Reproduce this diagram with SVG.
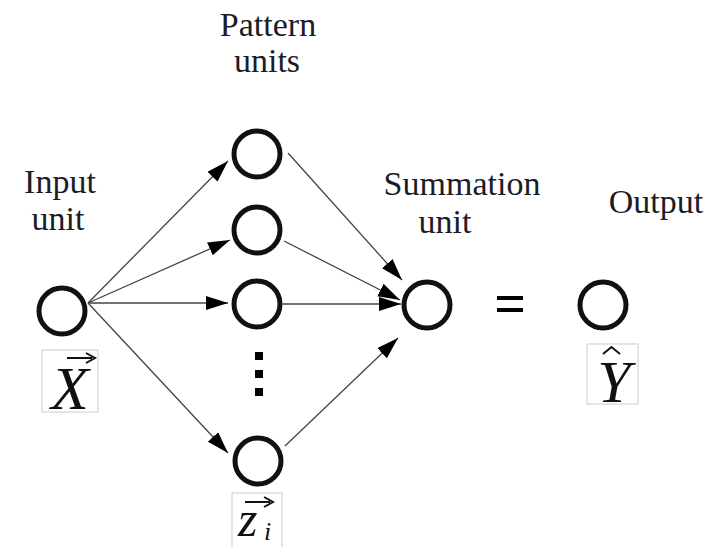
<svg xmlns="http://www.w3.org/2000/svg" width="708" height="547" viewBox="0 0 708 547">
<style>
.lbl{font-size:34px;fill:#1c1c28;text-anchor:middle}
.math{font-style:italic;fill:#111}
.node{fill:#fff;stroke:#111;stroke-width:5}
.conn{stroke:#444;stroke-width:1.3;fill:none}
.box{fill:none;stroke:#ccc;stroke-width:1}
.acc{stroke:#111;stroke-width:2;fill:none}
</style>
<defs>
<marker id="ah" markerUnits="userSpaceOnUse" markerWidth="24" markerHeight="16" refX="22" refY="7" orient="auto">
<path d="M0,0 L22,7 L0,14 z" fill="#000"/>
</marker>
</defs>
<rect width="708" height="547" fill="#fff"/>
<g id="labels" font-family="Liberation Serif, Times New Roman, serif">
<text class="lbl" x="268" y="36">Pattern</text>
<text class="lbl" x="267" y="72">units</text>
<text class="lbl" x="60" y="193">Input</text>
<text class="lbl" x="58" y="230">unit</text>
<text class="lbl" x="462" y="195">Summation</text>
<text class="lbl" x="445" y="233">unit</text>
<text class="lbl" x="656" y="213">Output</text>
</g>
<g id="connectors">
<line class="conn" x1="88" y1="303" x2="228" y2="161" marker-end="url(#ah)"/>
<line class="conn" x1="88" y1="303" x2="230" y2="240" marker-end="url(#ah)"/>
<line class="conn" x1="88" y1="303" x2="228" y2="303" marker-end="url(#ah)"/>
<line class="conn" x1="88" y1="303" x2="228" y2="453" marker-end="url(#ah)"/>
<line class="conn" x1="288" y1="153" x2="402" y2="280" marker-end="url(#ah)"/>
<line class="conn" x1="284" y1="241" x2="400" y2="300" marker-end="url(#ah)"/>
<line class="conn" x1="283" y1="304" x2="401" y2="304" marker-end="url(#ah)"/>
<line class="conn" x1="285" y1="446" x2="398" y2="338" marker-end="url(#ah)"/>
</g>
<g id="input" font-family="Liberation Serif, Times New Roman, serif">
<circle class="node" cx="62" cy="311" r="23"/>
<rect class="box" x="42" y="350" width="56" height="62"/>
<text class="math" x="70" y="409" font-size="62" text-anchor="middle">X</text>
<line class="acc" x1="67" y1="358" x2="92" y2="358"/>
<path d="M86,353 L95,358 L86,363" class="acc"/>
</g>
<g id="pattern1"><circle class="node" cx="257" cy="154" r="23"/></g>
<g id="pattern2"><circle class="node" cx="257" cy="230" r="23"/></g>
<g id="pattern3"><circle class="node" cx="257" cy="304" r="23"/></g>
<g id="dots">
<rect x="255" y="352" width="8" height="8" fill="#000"/>
<rect x="255" y="370" width="8" height="8" fill="#000"/>
<rect x="255" y="388" width="8" height="8" fill="#000"/>
</g>
<g id="pattern-i" font-family="Liberation Serif, Times New Roman, serif">
<circle class="node" cx="258" cy="461" r="23"/>
<rect class="box" x="232" y="493" width="50" height="60"/>
<text class="math" x="238" y="536" font-size="50">z</text>
<text class="math" x="264" y="540" font-size="26">i</text>
<line class="acc" x1="245" y1="502" x2="270" y2="502"/>
<path d="M264,497 L273,502 L264,507" class="acc"/>
</g>
<g id="summation"><circle class="node" cx="427" cy="305" r="23"/></g>
<g id="equals">
<rect x="497" y="296" width="26" height="4" fill="#000"/>
<rect x="497" y="308" width="26" height="4" fill="#000"/>
</g>
<g id="output" font-family="Liberation Serif, Times New Roman, serif">
<circle class="node" cx="603" cy="305" r="23"/>
<rect class="box" x="587" y="344" width="51" height="60"/>
<text class="math" x="614" y="402" font-size="60" text-anchor="middle">Y</text>
<path class="acc" d="M603,354 L611.5,347 L620,354" stroke-width="1.6"/>
</g>
</svg>
